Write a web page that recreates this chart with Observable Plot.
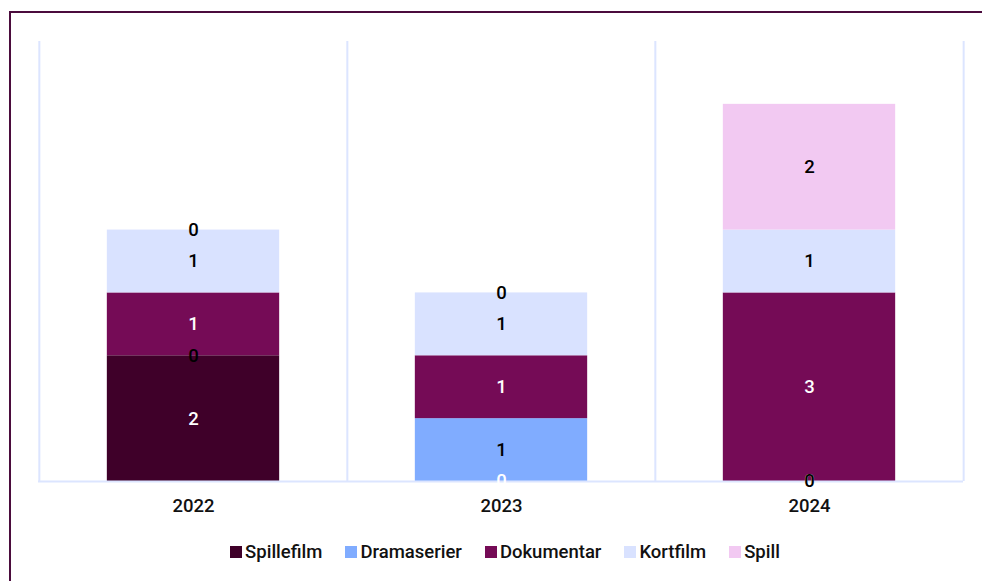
<!DOCTYPE html>
<html>
<head>
<meta charset="utf-8">
<script src="https://cdn.jsdelivr.net/npm/d3@7"></script>
<script src="https://cdn.jsdelivr.net/npm/@observablehq/plot@0.6"></script>
<style>
  html, body { margin: 0; padding: 0; background: #fff; overflow: hidden; }
  body { width: 982px; height: 581px; position: relative; font-family: Roboto, "Noto Sans", sans-serif; }
  #frame { position: absolute; left: 9px; top: 11px; width: 1000px; height: 600px; border: 2px solid #4b0c3d; box-sizing: border-box; }
  #chart { position: absolute; left: 0; top: 0; }
  #legend { position: absolute; left: 14px; top: 541px; width: 982px; display: flex; justify-content: center; gap: 23px; font-size: 18.5px; font-weight: 500; color: #111; }
  .item { display: flex; align-items: center; gap: 3px; }
  .sw { width: 12px; height: 12px; display: inline-block; }
</style>
</head>
<body>
<div id="frame"></div>
<div id="chart"></div>
<div id="legend"></div>
<script>
const years = ["2022", "2023", "2024"];
const categories = ["Spillefilm", "Dramaserier", "Dokumentar", "Kortfilm", "Spill"];
const colors = ["#3f0029", "#80acff", "#750b56", "#d9e2ff", "#f2c9f2"];
const textColors = ["#ffffff", "#000000", "#ffffff", "#000000", "#000000"];
const spillefilm = [2, 0, 0];
const dramaserier = [0, 1, 0];
const dokumentar = [1, 1, 3];
const kortfilm = [1, 1, 1];
const spill = [0, 0, 2];
const yMax = 7;

const series = [spillefilm, dramaserier, dokumentar, kortfilm, spill];
const data = [];
years.forEach((yr, i) => {
  categories.forEach((c, j) => data.push({year: yr, cat: c, value: series[j][i]}));
});
const white = new Set(categories.filter((c, j) => textColors[j] === "#ffffff"));

const W = 982, H = 520, ML = 38, MR = 19;
const step = (W - ML - MR) / years.length;
const barInset = step * 0.22;

const chart = Plot.plot({
  width: W, height: H,
  marginLeft: ML, marginRight: MR, marginTop: 41, marginBottom: 39,
  style: {fontFamily: "Roboto, 'Noto Sans', sans-serif", fontSize: "18.5px", fontWeight: 500, color: "#111", background: "transparent"},
  x: {domain: years, padding: 0, label: null, tickSize: 0, tickPadding: 17},
  y: {domain: [0, yMax], axis: null},
  color: {domain: categories, range: colors},
  marks: [
    Plot.ruleX(years, {x: d => d, y1: 0, y2: yMax, dx: -step / 2, stroke: "#dce5ff", strokeWidth: 2}),
    Plot.ruleX([years[years.length - 1]], {x: d => d, y1: 0, y2: yMax, dx: step / 2, stroke: "#dce5ff", strokeWidth: 2}),
    Plot.barY(data, Plot.stackY({x: "year", y: "value", z: "cat", fill: "cat", order: null, insetLeft: barInset, insetRight: barInset})),
    Plot.ruleY([0], {stroke: "#dce5ff", strokeWidth: 2}),
    Plot.text(data, Plot.stackY({x: "year", y: "value", z: "cat", order: null, text: d => white.has(d.cat) ? String(d.value) : "", fill: "#ffffff", fontSize: 18.5, fontWeight: 500})),
    Plot.text(data, Plot.stackY({x: "year", y: "value", z: "cat", order: null, text: d => white.has(d.cat) ? "" : String(d.value), fill: "#000000", fontSize: 18.5, fontWeight: 500}))
  ]
});
document.getElementById("chart").appendChild(chart);

const color = chart.scale("color");
const legend = document.getElementById("legend");
categories.forEach((c, j) => {
  const item = document.createElement("div");
  item.className = "item";
  const sw = document.createElement("span");
  sw.className = "sw";
  sw.style.background = color.apply(c);
  const lab = document.createElement("span");
  lab.textContent = c;
  item.appendChild(sw); item.appendChild(lab);
  legend.appendChild(item);
});
</script>
</body>
</html>
